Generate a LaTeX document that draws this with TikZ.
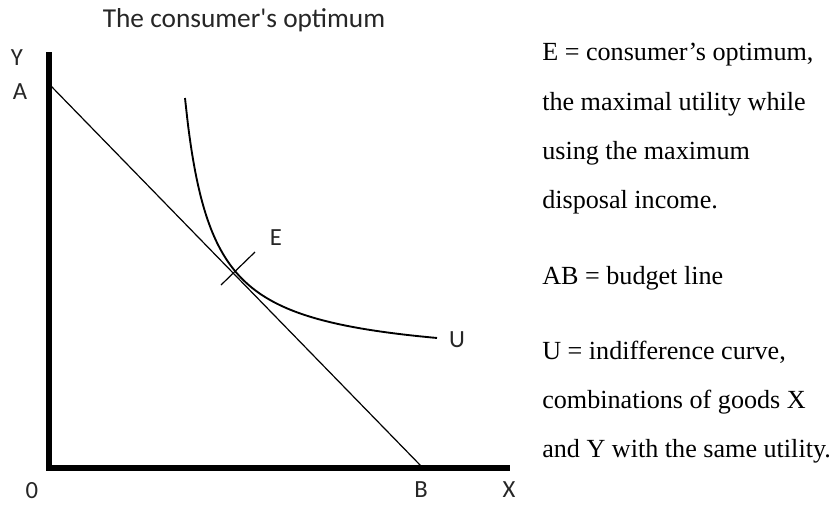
\documentclass[tikz,border=0pt]{standalone}
\usepackage{fontspec}
\setmainfont{Liberation Serif}
\newfontfamily\calfont{Carlito}
\begin{document}
\begin{tikzpicture}[x=0.75pt,y=-0.75pt,
  axis/.style={line width=3.8pt},
  thin line/.style={line width=0.9pt},
  curve/.style={line width=1.4pt},
  lab/.style={font=\calfont\fontsize{18.5}{20}\selectfont, inner sep=0pt, text=black!85},
  note/.style={font=\fontsize{19.6}{23}\selectfont, inner sep=0pt, anchor=west}]
\useasboundingbox (0,0) rectangle (835,504);
% axes
\coordinate (top) at (49,52);
\coordinate (orig) at (49,468);
\coordinate (xend) at (510,468);
\draw[axis] (top) -- (orig.center) -- (xend);
% budget line
\coordinate (A) at (50,85);
\coordinate (B) at (422,467);
\draw[thin line] (A) -- (B);
% cross at E
\coordinate (c1) at (221,285);
\coordinate (c2) at (255,252);
\draw[thin line] (c1) -- (c2);
% indifference curve
\draw[curve] plot[domain=185:437, samples=80, smooth] (\x, {363.4-7086/(\x-158.3)});
% labels
\node[lab, font=\calfont\fontsize{20.5}{22}\selectfont] (title) at (244,20) {The consumer's optimum};
\node[lab] (ylab) at (17,58) {Y};
\node[lab] (alab) at (20,92) {A};
\node[lab] (olab) at (32,491) {0};
\node[lab] (blab) at (421,490) {B};
\node[lab] (xlab) at (509,490) {X};
\node[lab] (elab) at (276,238) {E};
\node[lab] (ulab) at (457,340) {U};
% notes
\node[note] (n1) at (542,55) {E = consumer’s optimum,};
\node[note] (n2) at (542,104) {the maximal utility while};
\node[note] (n3) at (542,153) {using the maximum};
\node[note] (n4) at (542,202) {disposal income.};
\node[note] (n5) at (542,278) {AB = budget line};
\node[note] (n6) at (542,352) {U = indifference curve,};
\node[note] (n7) at (542,402) {combinations of goods X};
\node[note] (n8) at (542,451) {and Y with the same utility.};
\end{tikzpicture}
\end{document}
